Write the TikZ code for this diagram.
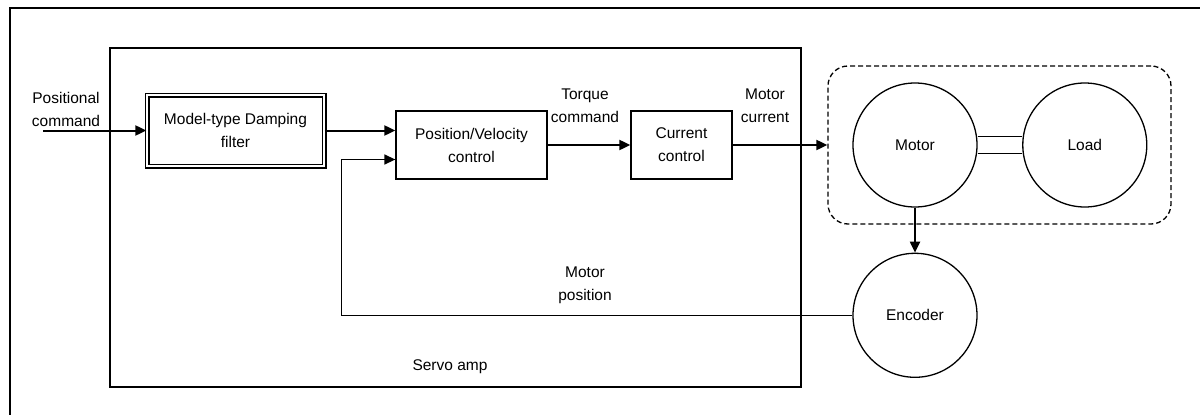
\documentclass[tikz,border=0pt]{standalone}
\usepackage{fontspec}
\setmainfont{Liberation Sans}
\usepackage{tikz}
\usetikzlibrary{arrows.meta, positioning, calc}
\tikzstyle{block} = [draw, rectangle, line width=1.3pt, align=center, minimum height=68pt]
\tikzstyle{round} = [draw, circle, line width=1.3pt, minimum size=124pt, inner sep=0pt]
\tikzstyle{line} = [draw, -{Triangle[length=11pt, width=10pt]}, line width=2pt]
\tikzstyle{sigtext} = [align=center, inner sep=0pt]

\begin{document}
\begin{tikzpicture}[x=1pt, y=-1pt, font=\fontsize{15.5}{23}\selectfont]
    \useasboundingbox (0,0) rectangle (1200,415);
    \draw [line width=2.5pt] (10,415) -- (10,8) -- (1200,8);

    \node (servo) [draw, line width=1.3pt, minimum width=691pt, minimum height=339pt, inner sep=0pt] at (455.5,217.5) {};
    \node (servolabel) at (450,367) {Servo amp};

    \node (filter) [block, double, double distance=2.4pt, minimum width=177pt, minimum height=71pt] at (235.5,130.5) {Model-type Damping\\filter};
    \node (posvel) [block, minimum width=151pt] at (471.5,145) {Position/Velocity\\control};
    \node (current) [block, minimum width=101pt] at (681.5,145) {Current\\control};

    \node (plant) [draw, dash pattern=on 5pt off 3pt, rounded corners=20pt, line width=1.3pt, minimum width=343pt, minimum height=158pt] at (999.5,145) {};
    \node (motor) [round] at (915,145) {Motor};
    \node (load) [round, right=44.5pt of motor] {Load};
    \node (encoder) [round, below=45pt of motor] {Encoder};

    \node (poscmd) [sigtext] at (66,109) {Positional\\command};
    \node (torque) [sigtext] at (585,106) {Torque\\command};
    \node (mcurrent) [sigtext] at (765,106) {Motor\\current};
    \node (mpos) [sigtext] at (585,285) {Motor\\position};

    \coordinate (cmdin) at (43,130.5);
    \coordinate (fbcorner) at ($(encoder.west)+(-511,0)$);

    \draw [line] (cmdin) -- (filter.west);
    \draw [line] (filter.east) -- (filter.east -| posvel.west);
    \draw [line] (posvel.east) -- (current.west);
    \draw [line] (current.east) -- (plant.west);
    \draw [line] (motor.south) -- (encoder.north);
    \draw [line, line width=1.4pt] (encoder.west) -- (fbcorner) |- ([yshift=-14.5pt]posvel.west);

    \draw [line width=1.3pt] ([yshift=8.5pt]motor.east) -- ([yshift=8.5pt]load.west);
    \draw [line width=1.3pt] ([yshift=-8.5pt]motor.east) -- ([yshift=-8.5pt]load.west);
\end{tikzpicture}
\end{document}
